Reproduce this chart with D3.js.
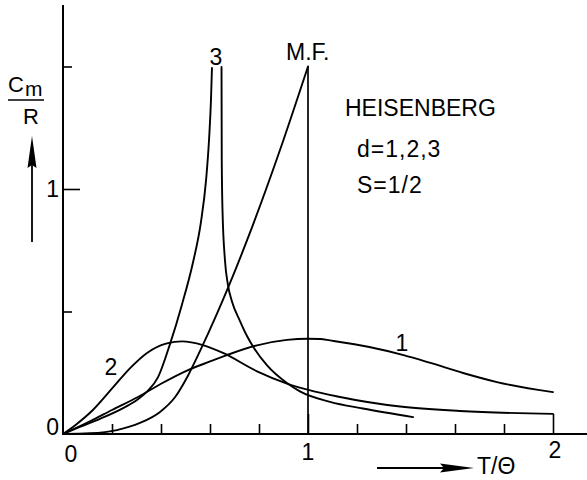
<!DOCTYPE html>
<html><head><meta charset="utf-8">
<script src="https://cdn.jsdelivr.net/npm/d3@7"></script>
<style>
body{margin:0;background:#fff}
svg{display:block}
text{font-family:"Liberation Sans",Arial,sans-serif;fill:#000}
</style>
</head><body>
<svg id="chart" width="587" height="480"></svg>
<script>
// ---- data ----
const xTickValues = [0, 1, 2];
const xTickLabels = ["0", "1", "2"];
const yTickValues = [0, 1];
const yTickLabels = ["0", "1"];
const xMinorTicks = [0.2, 0.4, 0.6, 0.8, 1.2, 1.4, 1.6, 1.8];
const xMajorTicks = [1, 2];
const yMinorTicks = [0.5, 1.5];
const yMajorTicks = [1];

const seriesNames = ["1", "2", "3", "M.F."];

// d = 1
const curve1D = [[0,0],[0.11,0.052],[0.2,0.098],[0.306,0.151],[0.4,0.205],[0.506,0.259],[0.6,0.296],
  [0.669,0.322],[0.792,0.362],[0.914,0.384],[0.996,0.389],[1.05,0.388],[1.09,0.382],[1.25,0.355],
  [1.39,0.322],[1.5,0.29],[1.633,0.249],[1.771,0.212],[2.0,0.171]];
// d = 2
const curve2D = [[0,0],[0.05,0.036],[0.122,0.098],[0.204,0.19],[0.273,0.268],[0.343,0.331],[0.424,0.370],
  [0.486,0.378],[0.571,0.363],[0.653,0.331],[0.792,0.256],[0.914,0.206],[1.131,0.151],[1.376,0.112],
  [1.62,0.094],[2.0,0.082]];
// d = 3, below Tc
const curve3DLow = [[0,0],[0.069,0.029],[0.151,0.062],[0.253,0.110],[0.306,0.142],[0.347,0.177],
  [0.388,0.232],[0.437,0.368],[0.486,0.530],[0.531,0.702],[0.563,0.865],[0.584,1.037],[0.596,1.2],
  [0.604,1.363],[0.608,1.494]];
// d = 3, above Tc
const curve3DHigh = [[0.647,1.498],[0.648,1.118],[0.651,0.914],[0.661,0.710],[0.673,0.610],[0.690,0.540],
  [0.722,0.462],[0.751,0.400],[0.780,0.350],[0.833,0.280],[0.914,0.208],[0.967,0.174],[1.090,0.131],
  [1.224,0.104],[1.429,0.069]];
// mean field
const meanField = [[0,0],[0.110,0.003],[0.220,0.016],[0.314,0.045],[0.396,0.090],[0.457,0.150],
  [0.510,0.238],[0.559,0.338],[0.629,0.492],[0.673,0.595],[0.751,0.790],[0.886,1.160],[1.0,1.5]];
const meanFieldDrop = [[1.0,1.5],[1.0,0]];

// ---- layout ----
const W = 587, H = 480;
const svg = d3.select("#chart");
const x = d3.scaleLinear().domain([0, 2]).range([63, 553]);
const y = d3.scaleLinear().domain([0, 1.5]).range([434, 66.5]);

const line = d3.line().x(d => x(d[0])).y(d => y(d[1])).curve(d3.curveMonotoneX);
const straight = d3.line().x(d => x(d[0])).y(d => y(d[1]));

// axis lines
svg.append("line").attr("x1", x(0)).attr("x2", W).attr("y1", y(0)).attr("y2", y(0))
  .attr("stroke", "#000").attr("stroke-width", 2);
svg.append("line").attr("x1", x(0)).attr("x2", x(0)).attr("y1", y(0)+1).attr("y2", 5)
  .attr("stroke", "#000").attr("stroke-width", 2);

// ticks via d3 axes (inward)
function styleAxis(g){ g.select(".domain").remove(); g.selectAll(".tick line").attr("stroke-width", 1.6); }
svg.append("g").attr("transform", `translate(0,${y(0)})`)
  .call(d3.axisBottom(x).tickValues(xMinorTicks).tickSizeInner(-10).tickSizeOuter(0).tickFormat(""))
  .call(styleAxis);
svg.append("g").attr("transform", `translate(0,${y(0)})`)
  .call(d3.axisBottom(x).tickValues(xMajorTicks).tickSizeInner(-20).tickSizeOuter(0).tickFormat(""))
  .call(styleAxis);
svg.append("g").attr("transform", `translate(${x(0)},0)`)
  .call(d3.axisLeft(y).tickValues(yMinorTicks).tickSizeInner(-9).tickSizeOuter(0).tickFormat(""))
  .call(styleAxis);
svg.append("g").attr("transform", `translate(${x(0)},0)`)
  .call(d3.axisLeft(y).tickValues(yMajorTicks).tickSizeInner(-17).tickSizeOuter(0).tickFormat(""))
  .call(styleAxis);

// tick labels
const xLabelDx = [8, 0, 2], xLabelDy = [28, 26, 24];
xTickValues.forEach((v, i) => {
  svg.append("text").attr("x", x(v) + xLabelDx[i]).attr("y", y(0) + xLabelDy[i])
    .attr("text-anchor", "middle").attr("font-size", 23).text(xTickLabels[i]);
});
const yLabelDy = [1, 8];
yTickValues.forEach((v, i) => {
  svg.append("text").attr("x", x(0) - 4).attr("y", y(v) + yLabelDy[i])
    .attr("text-anchor", "end").attr("font-size", 23).text(yTickLabels[i]);
});

// curves
const curves = [curve1D, curve2D, curve3DLow, curve3DHigh, meanField];
svg.selectAll("path.curve").data(curves).enter().append("path").attr("class", "curve")
  .attr("d", line).attr("fill", "none").attr("stroke", "#000").attr("stroke-width", 1.9)
  .attr("stroke-linejoin", "round").attr("stroke-linecap", "round");
svg.append("path").attr("d", straight(meanFieldDrop)).attr("fill", "none")
  .attr("stroke", "#000").attr("stroke-width", 1.7);

// curve labels
svg.append("text").attr("x", 402).attr("y", 351).attr("text-anchor", "middle").attr("font-size", 23).text(seriesNames[0]);
svg.append("text").attr("x", 111).attr("y", 375).attr("text-anchor", "middle").attr("font-size", 23).text(seriesNames[1]);
svg.append("text").attr("x", 216).attr("y", 65).attr("text-anchor", "middle").attr("font-size", 23).text(seriesNames[2]);
svg.append("text").attr("x", 286).attr("y", 60).attr("font-size", 23).text(seriesNames[3]);

// annotation block
svg.append("text").attr("x", 345).attr("y", 116).attr("font-size", 23).text("HEISENBERG");
svg.append("text").attr("x", 357).attr("y", 157).attr("font-size", 23).attr("letter-spacing", 1).text("d=1,2,3");
svg.append("text").attr("x", 357).attr("y", 193).attr("font-size", 23).attr("letter-spacing", 1).text("S=1/2");

// y-axis label  Cm / R with arrow
svg.append("text").attr("x", 8).attr("y", 92).attr("font-size", 22).text("C");
svg.append("text").attr("x", 25).attr("y", 96).attr("font-size", 21).text("m");
svg.append("line").attr("x1", 8).attr("x2", 44).attr("y1", 100).attr("y2", 100).attr("stroke", "#000").attr("stroke-width", 1.6);
svg.append("text").attr("x", 31).attr("y", 124).attr("text-anchor", "middle").attr("font-size", 22).text("R");
svg.append("line").attr("x1", 32).attr("x2", 32).attr("y1", 242).attr("y2", 160).attr("stroke", "#000").attr("stroke-width", 1.8);
svg.append("path").attr("d", "M32,136 L36.5,168 L32,165 L27.5,168 Z").attr("fill", "#000");

// x-axis label arrow + T/Θ
svg.append("line").attr("x1", 377).attr("x2", 450).attr("y1", 468).attr("y2", 468).attr("stroke", "#000").attr("stroke-width", 1.8);
svg.append("path").attr("d", "M474,468 L440,463.5 L444,468 L440,472.5 Z").attr("fill", "#000");
svg.append("text").attr("x", 477).attr("y", 474).attr("font-size", 23).text("T/Θ");
</script>
</body></html>
